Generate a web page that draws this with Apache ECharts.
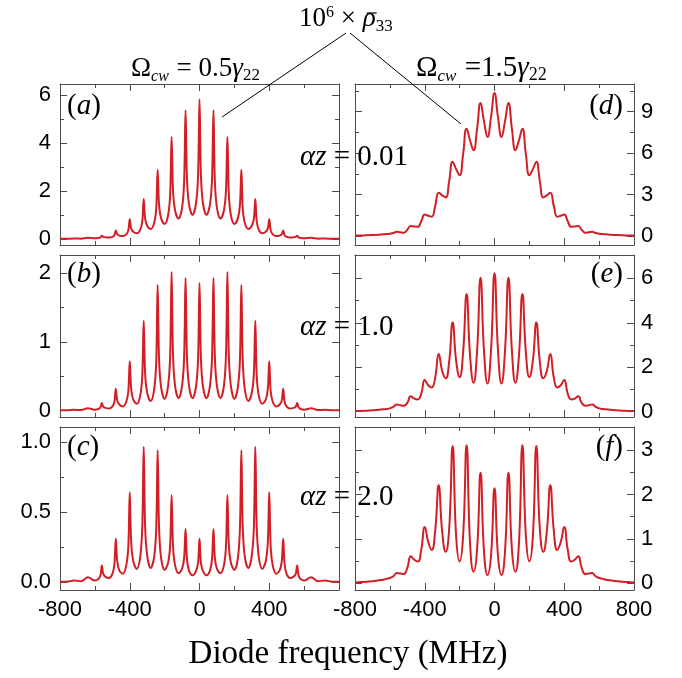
<!DOCTYPE html>
<html><head><meta charset="utf-8">
<script src="https://cdn.jsdelivr.net/npm/echarts@6/dist/echarts.min.js"></script>
<style>html,body{margin:0;padding:0;background:#fff;}#c{width:682px;height:678px;}</style>
</head><body><div id="c"></div>
<script>
// ---------- data ----------
// x sampling for the sharp-peaked (left) panels, MHz
const X_SHARP = [-800,-760,-720,-680,-640,-600,
 -580,-568,-560,-552,-540,-520,
 -500,-488,-480,-472,-460,-440,
 -420,-408,-400,-392,-380,-360,
 -340,-328,-320,-312,-300,-280,
 -260,-248,-240,-232,-220,-200,
 -180,-168,-160,-152,-140,-120,
 -100,-88,-80,-72,-60,-40,
 -20,-8,0,8,20,40,
 60,72,80,88,100,120,
 140,152,160,168,180,200,
 220,232,240,248,260,280,
 300,312,320,328,340,360,
 380,392,400,408,420,440,
 460,472,480,488,500,520,
 540,552,560,568,580,600,
 640,680,720,760,800];
// x sampling for the broad-peaked (right) panels, MHz
const X_BROAD = [-800,-780,-760,-740,-720,-700,-680,-660,-640,-620,-600,-580,-560,-540,-520,-500,-480,-460,-440,-420,
 -400,-380,-360,-340,-320,-300,-280,-260,-240,-220,-200,-180,-160,-140,-120,-100,-80,-60,-40,-20,
 0,20,40,60,80,100,120,140,160,180,200,220,240,260,280,300,320,340,360,380,
 400,420,440,460,480,500,520,540,560,580,600,620,640,660,680,700,720,740,760,780,800];

// (a) alpha z = 0.01, Omega = 0.5 gamma
const Y_A = [0.01,0.01,0.02,0.015,0.05,0.03,
 0.04,0.07,0.14,0.09,0.07,0.06,
 0.09,0.16,0.35,0.20,0.14,0.12,
 0.19,0.37,0.82,0.44,0.30,0.24,
 0.38,0.74,1.67,0.86,0.55,0.42,
 0.67,1.28,2.89,1.42,0.86,0.63,
 0.99,1.90,4.25,2.04,1.19,0.85,
 1.30,2.43,5.37,2.53,1.44,1.00,
 1.48,2.69,5.82,2.69,1.48,1.00,
 1.44,2.53,5.37,2.43,1.30,0.85,
 1.19,2.04,4.25,1.90,0.99,0.63,
 0.86,1.42,2.89,1.28,0.67,0.42,
 0.55,0.86,1.67,0.74,0.38,0.24,
 0.30,0.44,0.82,0.37,0.19,0.12,
 0.14,0.20,0.35,0.16,0.09,0.06,
 0.07,0.09,0.14,0.07,0.04,0.03,
 0.05,0.015,0.02,0.01,0.01];
// (b) alpha z = 1.0
const Y_B = [0.005,0.005,0.012,0.01,0.035,0.015,
 0.025,0.05,0.11,0.06,0.04,0.03,
 0.06,0.13,0.32,0.15,0.09,0.06,
 0.13,0.29,0.72,0.32,0.16,0.10,
 0.22,0.52,1.31,0.55,0.26,0.14,
 0.31,0.73,1.83,0.75,0.34,0.17,
 0.36,0.82,2.02,0.82,0.36,0.18,
 0.36,0.79,1.93,0.79,0.36,0.18,
 0.35,0.77,1.86,0.77,0.35,0.18,
 0.36,0.79,1.93,0.79,0.36,0.18,
 0.36,0.82,2.02,0.82,0.36,0.17,
 0.34,0.75,1.83,0.73,0.31,0.14,
 0.26,0.55,1.31,0.52,0.22,0.10,
 0.16,0.32,0.72,0.29,0.13,0.06,
 0.09,0.15,0.32,0.13,0.06,0.03,
 0.04,0.06,0.11,0.05,0.025,0.015,
 0.035,0.01,0.012,0.005,0.005];
// (c) alpha z = 2.0
const Y_C = [0.003,0.004,0.012,0.008,0.036,0.012,
 0.023,0.05,0.12,0.06,0.04,0.03,
 0.058,0.13,0.31,0.15,0.085,0.06,
 0.12,0.26,0.64,0.29,0.15,0.095,
 0.18,0.40,0.965,0.40,0.19,0.10,
 0.18,0.39,0.94,0.39,0.17,0.088,
 0.14,0.27,0.62,0.26,0.12,0.064,
 0.096,0.175,0.38,0.166,0.083,0.05,
 0.08,0.14,0.31,0.14,0.08,0.05,
 0.083,0.166,0.38,0.175,0.096,0.064,
 0.12,0.26,0.62,0.27,0.14,0.088,
 0.17,0.39,0.94,0.39,0.18,0.10,
 0.19,0.40,0.965,0.40,0.18,0.095,
 0.15,0.29,0.64,0.26,0.12,0.06,
 0.085,0.15,0.31,0.13,0.058,0.03,
 0.04,0.06,0.12,0.05,0.023,0.012,
 0.036,0.008,0.012,0.004,0.003];
// (d) alpha z = 0.01, Omega = 1.5 gamma
const Y_D = [0.03,0.035,0.04,0.05,0.06,0.07,0.08,0.10,0.12,0.14,0.17,0.22,0.31,0.27,0.24,0.46,0.72,0.69,0.67,1.07,
 1.56,1.47,1.40,2.18,3.13,2.94,2.79,3.95,5.37,4.84,4.40,5.92,7.77,6.91,6.21,7.75,9.63,8.28,7.17,8.6,
 10.35,8.6,7.17,8.28,9.63,7.75,6.21,6.91,7.77,5.92,4.40,4.84,5.37,3.95,2.79,2.94,3.13,2.18,1.40,1.47,
 1.56,1.07,0.67,0.69,0.72,0.46,0.24,0.27,0.31,0.22,0.17,0.14,0.12,0.10,0.08,0.07,0.06,0.05,0.04,0.035,0.03];
// (e) alpha z = 1.0
const Y_E = [0.025,0.03,0.035,0.04,0.05,0.06,0.07,0.09,0.11,0.12,0.15,0.22,0.32,0.29,0.27,0.40,0.69,0.59,0.55,0.81,
 1.42,1.19,1.09,1.54,2.59,1.83,1.5,2.25,4.01,2.29,1.55,2.67,5.29,2.5,1.3,2.72,6.03,2.70,1.27,2.76,
 6.23,2.76,1.27,2.70,6.03,2.72,1.3,2.5,5.29,2.67,1.55,2.29,4.01,2.25,1.5,1.83,2.59,1.54,1.09,1.19,
 1.42,0.81,0.55,0.59,0.69,0.40,0.27,0.29,0.32,0.22,0.15,0.12,0.11,0.09,0.07,0.06,0.05,0.04,0.035,0.03,0.025];
// (f) alpha z = 2.0
const Y_F = [0.02,0.025,0.03,0.035,0.04,0.05,0.06,0.07,0.08,0.10,0.12,0.16,0.23,0.22,0.21,0.35,0.61,0.53,0.49,0.76,
 1.27,0.93,0.75,1.19,2.21,1.16,0.71,1.23,3.09,1.06,0.49,1.07,3.11,0.89,0.26,0.75,2.49,0.70,0.19,0.62,
 2.14,0.62,0.19,0.70,2.49,0.75,0.26,0.89,3.11,1.07,0.49,1.06,3.09,1.23,0.71,1.16,2.21,1.19,0.75,0.93,
 1.27,0.76,0.49,0.53,0.61,0.35,0.21,0.22,0.23,0.16,0.12,0.10,0.08,0.07,0.06,0.05,0.04,0.035,0.03,0.025,0.02];

// tick values
const X_MIN = -800, X_MAX = 800, X_STEP = 400;
const X_LABELS_LEFT = [-800,-400,0,400];
const X_LABELS_RIGHT = [-800,-400,0,400,800];
const TICKS_A = [0,2,4,6],     MINOR_A = [1,3,5];
const TICKS_B = [0,1,2],       MINOR_B = [0.5,1.5];
const TICKS_C = [0,0.5,1.0],   MINOR_C = [0.25,0.75];
const TICKS_D = [0,3,6,9],     MINOR_D = [1.5,4.5,7.5,10.5];
const TICKS_E = [0,2,4,6],     MINOR_E = [1,3,5];
const TICKS_F = [0,1,2,3],     MINOR_F = [0.5,1.5,2.5];
const PANEL_LETTERS = ['a','b','c','d','e','f'];
const ALPHA_Z = ['0.01','1.0','2.0'];

// ---------- layout ----------
const SERIF = '"Liberation Serif","Times New Roman",serif';
const SANS = '"Liberation Sans",Arial,sans-serif';
const FRAME = '#4d4d4d';
const RED = '#d21f26';
const PANELS = [
 {x:X_SHARP, y:Y_A, grid:{left:60, top:84, width:279, height:161}, min:-0.25, max:6.46, major:TICKS_A, minor:MINOR_A, side:'left', dec:0, bottom:false, smooth:0.35},
 {x:X_SHARP, y:Y_B, grid:{left:60, top:255, width:279, height:162}, min:-0.092, max:2.266, major:TICKS_B, minor:MINOR_B, side:'left', dec:0, bottom:false, smooth:0.35},
 {x:X_SHARP, y:Y_C, grid:{left:60, top:427, width:279, height:163}, min:-0.055, max:1.105, major:TICKS_C, minor:MINOR_C, side:'left', dec:1, bottom:true, smooth:0.35},
 {x:X_BROAD, y:Y_D, grid:{left:355, top:84, width:279, height:161}, min:-0.65, max:11.0, major:TICKS_D, minor:MINOR_D, side:'right', dec:0, bottom:false, smooth:0.5},
 {x:X_BROAD, y:Y_E, grid:{left:355, top:255, width:279, height:162}, min:-0.24, max:7.05, major:TICKS_E, minor:MINOR_E, side:'right', dec:0, bottom:false, smooth:0.5},
 {x:X_BROAD, y:Y_F, grid:{left:355, top:427, width:279, height:163}, min:-0.15, max:3.52, major:TICKS_F, minor:MINOR_F, side:'right', dec:0, bottom:true, smooth:0.5}
];

const grid = [], xAxis = [], yAxis = [], series = [];
const lineSt = {color: FRAME, width: 1};
PANELS.forEach((p, i) => {
  grid.push(Object.assign({outerBoundsMode:'none', containLabel:false}, p.grid));
  const xl = p.side === 'left' ? X_LABELS_LEFT : X_LABELS_RIGHT;
  ['bottom','top'].forEach(pos => {
    xAxis.push({type:'value', gridIndex:i, min:X_MIN, max:X_MAX, interval:X_STEP, position:pos,
      axisLine:{show:true, onZero:false, lineStyle:lineSt},
      axisTick:{show:true, inside:true, length:7, lineStyle:lineSt},
      minorTick:{show:true, splitNumber:2, length:4, lineStyle:lineSt},
      splitLine:{show:false}, minorSplitLine:{show:false},
      axisLabel:{show: pos === 'bottom' && p.bottom, margin:9, color:'#000', fontFamily:SANS, fontSize:22,
        formatter: v => xl.indexOf(v) >= 0 ? String(v) : ''}
    });
  });
  ['left','right'].forEach(pos => {
    const lab = pos === p.side;
    yAxis.push({type:'value', gridIndex:i, min:p.min, max:p.max, position:pos,
      axisLine:{show:true, onZero:false, lineStyle:lineSt},
      axisTick:{show:true, inside:true, length:7, lineStyle:lineSt, customValues:p.major},
      splitLine:{show:false},
      axisLabel:{show:lab, customValues:p.major, margin: pos === 'left' ? 9 : 7, color:'#000', fontFamily:SANS, fontSize:22,
        formatter: v => Number(v).toFixed(p.dec)}
    });
    yAxis.push({type:'value', gridIndex:i, min:p.min, max:p.max, position:pos,
      axisLine:{show:false, onZero:false},
      axisTick:{show:true, inside:true, length:4, lineStyle:lineSt, customValues:p.minor},
      splitLine:{show:false}, axisLabel:{show:false}
    });
  });
  series.push({type:'line', xAxisIndex:2*i, yAxisIndex:4*i, data:p.x.map((x, k) => [x, p.y[k]]),
    showSymbol:false, symbol:'none', smooth:p.smooth, silent:true, z:5,
    lineStyle:{color:RED, width:2}});
});

// ---------- annotation text ----------
const graphic = [];
function txt(x, y, text, rich, align, font) {
  graphic.push({type:'text', x:x, y:y, z:10, silent:true, style:{text:text, rich:rich || undefined,
    font: font || ('24px ' + SERIF), fill:'#000', align:align || 'left', verticalAlign:'middle',
    textAlign:align || 'left', textVerticalAlign:'middle'}});
}
// run of text pieces on a common baseline (for sub/superscripts)
const mctx = document.createElement('canvas').getContext('2d');
function run(x0, baseline, pieces) {
  let x = x0;
  const out = [];
  pieces.forEach(pc => {
    const font = (pc.i ? 'italic ' : '') + pc.s + 'px ' + SERIF;
    mctx.font = font;
    const w = mctx.measureText(pc.t).width;
    graphic.push({type:'text', x:x, y:baseline + (pc.dy || 0) - 0.34 * pc.s, z:10, silent:true,
      style:{text:pc.t, font:font, fill:'#000', align:'left', verticalAlign:'middle', textAlign:'left', textVerticalAlign:'middle'}});
    out.push({x:x, w:w});
    x += w + (pc.gap || 0);
  });
  return out;
}
const R = {
  p:{fontFamily:SERIF, fontSize:29, color:'#000'},
  pi:{fontFamily:SERIF, fontSize:29, fontStyle:'italic', color:'#000'},
  az:{fontFamily:SERIF, fontSize:29, color:'#000'},
  azi:{fontFamily:SERIF, fontSize:29, fontStyle:'italic', color:'#000'}
};
// 10^6 x rho-bar_33
const topRun = run(299, 28, [
  {t:'10', s:27}, {t:'6', s:16, dy:-10}, {t:' \u00d7 ', s:27}, {t:'\u03c1', s:27, i:true}, {t:'33', s:17, dy:4}
]);
const rho = topRun[3];
graphic.push({type:'line', z:10, silent:true, shape:{x1:rho.x + 0.3 * rho.w, y1:13, x2:rho.x + rho.w + 1, y2:13},
  style:{stroke:'#000', lineWidth:1.2}});
// Omega_cw labels
run(131, 78, [{t:'\u03a9', s:27}, {t:'cw', s:16, i:true, dy:4, gap:1}, {t:' = 0.5', s:27}, {t:'\u03b3', s:27, i:true}, {t:'22', s:17, dy:3}]);
run(416, 78, [{t:'\u03a9', s:29}, {t:'cw', s:17, i:true, dy:4, gap:1}, {t:' =1.5', s:29}, {t:'\u03b3', s:29, i:true}, {t:'22', s:18, dy:3}]);
PANEL_LETTERS.forEach((L, i) => {
  const p = PANELS[i];
  const g = p.grid;
  const left = p.side === 'left';
  txt(left ? g.left + 7 : g.left + g.width - 11, g.top + (i % 3 === 0 ? 22 : (i % 3 === 1 ? 19 : 20)),
      '{p|(}{pi|' + L + '}{p|)}', R, left ? 'left' : 'right');
});
[157, 327, 497].forEach((y, r) => {
  txt(300, y, '{azi|\u03b1z}{az| = ' + ALPHA_Z[r] + '}', R, 'left');
});
txt(348, 654, 'Diode frequency (MHz)', null, 'center', '33px ' + SERIF);
// pointer lines from the 10^6 x rho label to the two top panels
graphic.push({type:'line', z:10, silent:true, shape:{x1:346, y1:33, x2:222, y2:117}, style:{stroke:'#000', lineWidth:1}});
graphic.push({type:'line', z:10, silent:true, shape:{x1:350, y1:33, x2:461, y2:124}, style:{stroke:'#000', lineWidth:1}});

const chart = echarts.init(document.getElementById('c'), null, {renderer:'canvas'});
chart.setOption({animation:false, backgroundColor:'#fff', textStyle:{fontFamily:SANS},
  grid, xAxis, yAxis, series, graphic});
</script></body></html>
